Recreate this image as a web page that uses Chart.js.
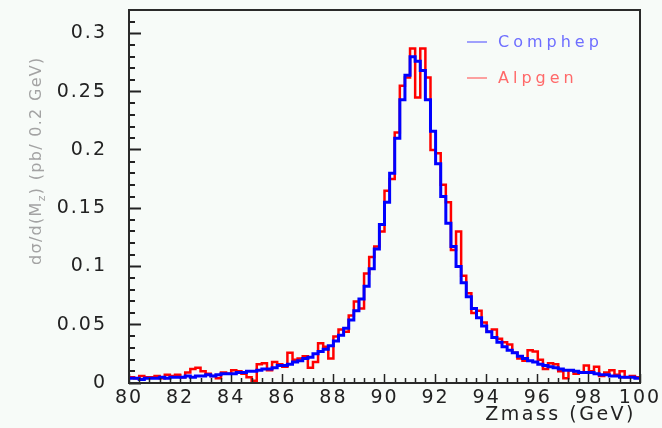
<!DOCTYPE html>
<html>
<head>
<meta charset="utf-8">
<script src="https://cdn.jsdelivr.net/npm/chart.js@4.4.1/dist/chart.umd.min.js"></script>
<style>
html,body{margin:0;padding:0;background:#f7fbf8;}
canvas{display:block;}
</style>
</head>
<body>
<canvas id="c" width="662" height="428"></canvas>
<script>
// ---- data (bins of 0.2 GeV from 80 to 100 GeV) ----
const xMin = 80;
const xMax = 100;
const binWidth = 0.2;
const xTickLabels = [80, 82, 84, 86, 88, 90, 92, 94, 96, 98, 100];
const yTickLabels = [0, 0.05, 0.1, 0.15, 0.2, 0.25, 0.3];
const seriesNames = ['Comphep', 'Alpgen'];

const comphep = [
  0.004,0.004,0.003,0.004,0.004,0.004,0.005,0.004,0.005,0.005,
  0.005,0.006,0.005,0.006,0.006,0.007,0.006,0.007,0.008,0.008,
  0.008,0.009,0.009,0.010,0.010,0.011,0.012,0.012,0.013,0.015,
  0.015,0.016,0.018,0.019,0.021,0.022,0.025,0.027,0.029,0.032,
  0.036,0.041,0.047,0.054,0.062,0.072,0.083,0.098,0.115,0.136,
  0.155,0.180,0.210,0.243,0.264,0.280,0.276,0.268,0.243,0.216,
  0.188,0.160,0.137,0.117,0.100,0.086,0.074,0.064,0.056,0.049,
  0.044,0.039,0.035,0.031,0.028,0.026,0.023,0.021,0.019,0.018,
  0.016,0.015,0.014,0.013,0.012,0.011,0.011,0.010,0.009,0.009,
  0.009,0.008,0.007,0.007,0.006,0.006,0.005,0.005,0.005,0.004
];

const alpgen = [
  0.005,0.004,0.006,0.005,0.005,0.006,0.004,0.007,0.006,0.007,
  0.005,0.009,0.012,0.013,0.010,0.008,0.006,0.004,0.009,0.008,
  0.011,0.010,0.008,0.005,0.002,0.016,0.017,0.011,0.018,0.016,
  0.014,0.026,0.020,0.021,0.023,0.013,0.018,0.034,0.031,0.021,
  0.040,0.046,0.044,0.058,0.070,0.064,0.094,0.108,0.117,0.130,
  0.165,0.175,0.215,0.255,0.262,0.287,0.245,0.287,0.262,0.200,
  0.197,0.170,0.155,0.114,0.130,0.092,0.077,0.060,0.062,0.052,
  0.044,0.046,0.038,0.035,0.033,0.026,0.021,0.019,0.028,0.027,
  0.020,0.012,0.017,0.016,0.010,0.004,0.011,0.008,0.009,0.015,
  0.010,0.014,0.006,0.009,0.011,0.007,0.010,0.005,0.006,0.005
];

// ---- helpers ----
const binEdges = comphep.map((_, i) => +(xMin + i * binWidth).toFixed(1));
function toSteps(values) {
  const pts = values.map((v, i) => ({ x: binEdges[i], y: v }));
  pts.push({ x: xMax, y: values[values.length - 1] });
  return pts;
}
const minorX = [];
for (let i = 0; i <= 50; i++) { const v = +(xMin + i * 0.4).toFixed(1); if (Math.abs(v / 2 - Math.round(v / 2)) > 1e-6) minorX.push(v); }
const minorY = [];
for (let i = 0; i <= 32; i++) { if (i % 5 !== 0) minorY.push(i / 100); }

const BG = '#f7fbf8';
const AXIS = '#222222';

const decorPlugin = {
  id: 'decor',
  beforeDraw(chart) {
    const ctx = chart.ctx;
    ctx.save();
    ctx.fillStyle = BG;
    ctx.fillRect(0, 0, chart.width, chart.height);
    ctx.restore();
    ctx.letterSpacing = '2px';
  },
  afterDraw(chart) {
    const ctx = chart.ctx;
    const a = chart.chartArea;
    const xs = chart.scales.x, ys = chart.scales.y;
    ctx.save();
    // minor ticks
    ctx.strokeStyle = AXIS;
    ctx.lineWidth = 1.5;
    ctx.beginPath();
    minorX.forEach(v => { const p = Math.round(xs.getPixelForValue(v)) + 0.5; ctx.moveTo(p, a.bottom); ctx.lineTo(p, a.bottom - 5); });
    ctx.stroke();
    ctx.lineWidth = 2;
    ctx.beginPath();
    minorY.forEach(v => { const p = Math.round(ys.getPixelForValue(v)); ctx.moveTo(a.left, p); ctx.lineTo(a.left + 6, p); });
    ctx.stroke();
    // frame
    ctx.lineWidth = 2;
    ctx.strokeStyle = '#2a2a2a';
    ctx.strokeRect(a.left, a.top, a.right - a.left, a.bottom - a.top);

    // legend
    const legendRows = [
      { name: seriesNames[0], line: 'rgba(90,90,255,0.75)', text: 'rgb(110,110,255)', y: 42 },
      { name: seriesNames[1], line: 'rgba(255,90,90,0.75)', text: 'rgb(255,105,105)', y: 78 }
    ];
    legendRows.forEach(r => {
      ctx.strokeStyle = r.line;
      ctx.lineWidth = 1.5;
      ctx.beginPath(); ctx.moveTo(467, r.y); ctx.lineTo(487, r.y); ctx.stroke();
      ctx.font = '16px "DejaVu Sans"';
      ctx.letterSpacing = '4px';
      ctx.fillStyle = r.text;
      ctx.textAlign = 'left';
      ctx.textBaseline = 'middle';
      ctx.fillText(r.name, 498, r.y + 1);
    });

    // x title
    ctx.font = '19px "DejaVu Sans"';
    ctx.letterSpacing = '2.5px';
    ctx.fillStyle = AXIS;
    ctx.textAlign = 'right';
    ctx.textBaseline = 'middle';
    ctx.fillText('Zmass (GeV)', 636, 415);

    // y title with subscript
    ctx.translate(37, 265);
    ctx.rotate(-Math.PI / 2);
    ctx.textAlign = 'left';
    ctx.textBaseline = 'middle';
    ctx.fillStyle = '#a3a3a3';
    ctx.letterSpacing = '1.3px';
    let x = 0;
    const parts = [
      { t: 'd\u03c3/d(M', f: '16px "DejaVu Sans"', dy: 0 },
      { t: 'z', f: '11px "DejaVu Sans"', dy: 5 },
      { t: ') (pb/ 0.2 GeV)', f: '16px "DejaVu Sans"', dy: 0 }
    ];
    parts.forEach(p => {
      ctx.font = p.f;
      ctx.fillText(p.t, x, p.dy);
      x += ctx.measureText(p.t).width;
    });
    ctx.restore();
  }
};

new Chart(document.getElementById('c').getContext('2d'), {
  type: 'line',
  data: {
    datasets: [
      { label: seriesNames[1], data: toSteps(alpgen), borderColor: '#ff0000', borderWidth: 2.5, stepped: 'before', pointRadius: 0, fill: false, order: 2 },
      { label: seriesNames[0], data: toSteps(comphep), borderColor: '#0000ff', borderWidth: 3, stepped: 'before', pointRadius: 0, fill: false, order: 1 }
    ]
  },
  options: {
    responsive: false,
    animation: false,
    devicePixelRatio: 1,
    layout: { padding: { top: 10, right: 22, left: 0, bottom: 0 } },
    plugins: { legend: { display: false }, tooltip: { enabled: false } },
    scales: {
      x: {
        type: 'linear', min: xMin, max: xMax,
        afterBuildTicks: s => { s.ticks = xTickLabels.map(v => ({ value: v })); },
        afterFit: s => { s.height = 45; s.paddingLeft = 0; s.paddingRight = 0; },
        border: { display: false },
        grid: { drawOnChartArea: false, drawTicks: true, tickLength: -9, tickColor: AXIS, tickWidth: 1.5 },
        ticks: { padding: 13, color: AXIS, font: { family: 'DejaVu Sans', size: 19 }, maxRotation: 0, autoSkip: false,
                 callback: v => String(v) }
      },
      y: {
        type: 'linear', min: 0, max: 0.32,
        afterBuildTicks: s => { s.ticks = yTickLabels.map(v => ({ value: v })); },
        afterFit: s => { s.width = 129; s.paddingTop = 0; s.paddingBottom = 0; },
        border: { display: false },
        grid: { drawOnChartArea: false, drawTicks: true, tickLength: -12, tickColor: AXIS, tickWidth: 2 },
        ticks: { padding: 34, color: AXIS, font: { family: 'DejaVu Sans', size: 19 }, autoSkip: false,
                 callback: v => String(+v.toFixed(2)) }
      }
    }
  },
  plugins: [decorPlugin]
});
</script>
</body>
</html>
